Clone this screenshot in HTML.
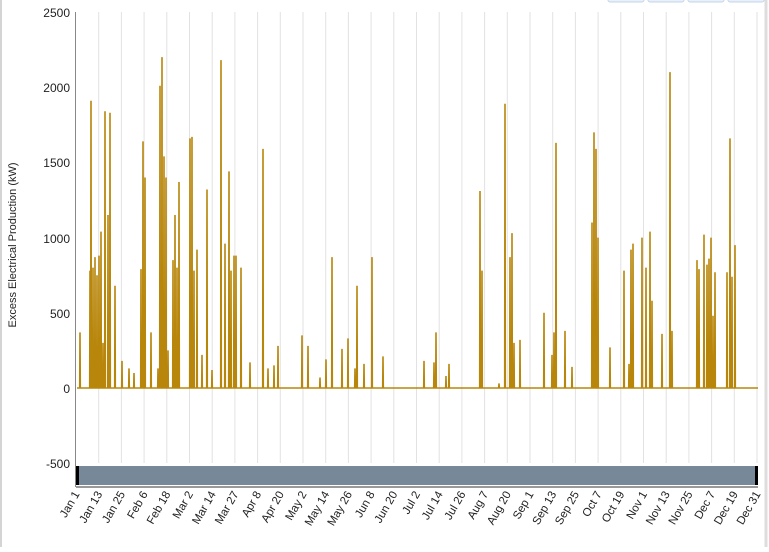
<!DOCTYPE html>
<html><head><style>
body{margin:0;background:#fff;width:769px;height:547px;overflow:hidden;font-family:"Liberation Sans",sans-serif}
</style></head><body>
<svg id="s" width="769" height="547" xmlns="http://www.w3.org/2000/svg" font-family="Liberation Sans, sans-serif" font-size="11">
<rect x="0" y="0" width="769" height="547" fill="#fff"/>
<line x1="1" y1="0" x2="1" y2="547" stroke="#aaa" stroke-width="1"/>
<line x1="766" y1="0" x2="766" y2="547" stroke="#ddd" stroke-width="3"/>
<g fill="#e8f0fb" stroke="#c5d5ea"><rect x="608" y="-4" width="36" height="6" rx="2"/><rect x="648" y="-4" width="36" height="6" rx="2"/><rect x="688" y="-4" width="36" height="6" rx="2"/><rect x="728" y="-4" width="36" height="6" rx="2"/></g>
<g id="grid" stroke="#e2e2e2" stroke-width="1"></g>
<line x1="75.5" y1="12" x2="75.5" y2="487" stroke="#888"/>
<line x1="76" y1="487" x2="758" y2="487" stroke="#999" stroke-width="2"/>
<g text-anchor="end" fill="#222" font-size="12">
<text x="70" y="17">2500</text><text x="70" y="92">2000</text><text x="70" y="167">1500</text><text x="70" y="243">1000</text><text x="70" y="318">500</text><text x="70" y="393">0</text><text x="70" y="468">-500</text>
</g>
<text transform="translate(16,245) rotate(-90)" text-anchor="middle" fill="#222" font-size="11">Excess Electrical Production (kW)</text>
<rect x="76" y="466" width="682" height="19" fill="#778899"/>
<rect x="76" y="466" width="3" height="19" fill="#000"/>
<rect x="755" y="466" width="3" height="19" fill="#000"/>
<g id="lbl" fill="#222" font-size="11.5"></g>
<polyline id="d" fill="none" stroke="#b8860b" stroke-width="1.6" stroke-linejoin="miter"/>
</svg>
<script>
var labs=["Jan 1","Jan 13","Jan 25","Feb 6","Feb 18","Mar 2","Mar 14","Mar 27","Apr 8","Apr 20","May 2","May 14","May 26","Jun 8","Jun 20","Jul 2","Jul 14","Jul 26","Aug 7","Aug 20","Sep 1","Sep 13","Sep 25","Oct 7","Oct 19","Nov 1","Nov 13","Nov 25","Dec 7","Dec 19","Dec 31"];
var g=document.getElementById('grid'),l=document.getElementById('lbl'),ns="http://www.w3.org/2000/svg";
for(var i=0;i<31;i++){var x=76+i*22.7;
 if(i>0){var ln=document.createElementNS(ns,'line');ln.setAttribute('x1',x);ln.setAttribute('x2',x);ln.setAttribute('y1',12);ln.setAttribute('y2',463);g.appendChild(ln);}
 var t=document.createElementNS(ns,'text');t.setAttribute('text-anchor','end');t.setAttribute('transform','translate('+(x+4)+',494) rotate(-60)');t.textContent=labs[i];l.appendChild(t);}
var sp=[[80,370],[90,780],[91,1910],[93,800],[95,870],[97,750],[99,880],[101,1040],[103,300],[105,1840],[108,1150],[110,1830],[115,680],[122,180],[129,130],[134,100],[141,790],[143,1640],[145,1400],[151,370],[158,130],[160,2010],[162,2200],[164,1540],[166,1400],[168,250],[173,850],[175,1150],[177,800],[179,1370],[190,1660],[192,1670],[194,780],[197,920],[202,220],[207,1320],[212,120],[221,2180],[225,960],[229,1440],[231,780],[234,880],[236,880],[241,800],[250,170],[263,1590],[268,130],[274,150],[278,280],[302,350],[308,280],[320,70],[326,190],[332,870],[342,260],[348,330],[355,130],[357,680],[364,160],[372,870],[383,210],[424,180],[434,170],[436,370],[446,80],[449,160],[480,1310],[482,780],[499,30],[505,1890],[510,870],[512,1030],[514,300],[520,320],[544,500],[552,220],[554,370],[556,1630],[565,380],[572,140],[592,1100],[594,1700],[596,1590],[598,1000],[610,270],[624,780],[629,160],[631,920],[633,960],[642,1000],[646,800],[650,1040],[652,580],[662,360],[670,2100],[672,380],[697,850],[699,790],[704,1020],[707,820],[709,860],[711,1000],[713,480],[715,770],[727,770],[730,1660],[732,740],[735,950]];
function Y(v){return 388-v*0.1504;}
var p=["77,388"];sp.forEach(function(s){var x=s[0];p.push((x-0.3)+",388",x+","+Y(s[1]),(x+0.3)+",388");});p.push("758,388");
document.getElementById('d').setAttribute('points',p.join(' '));
</script>
</body></html>
